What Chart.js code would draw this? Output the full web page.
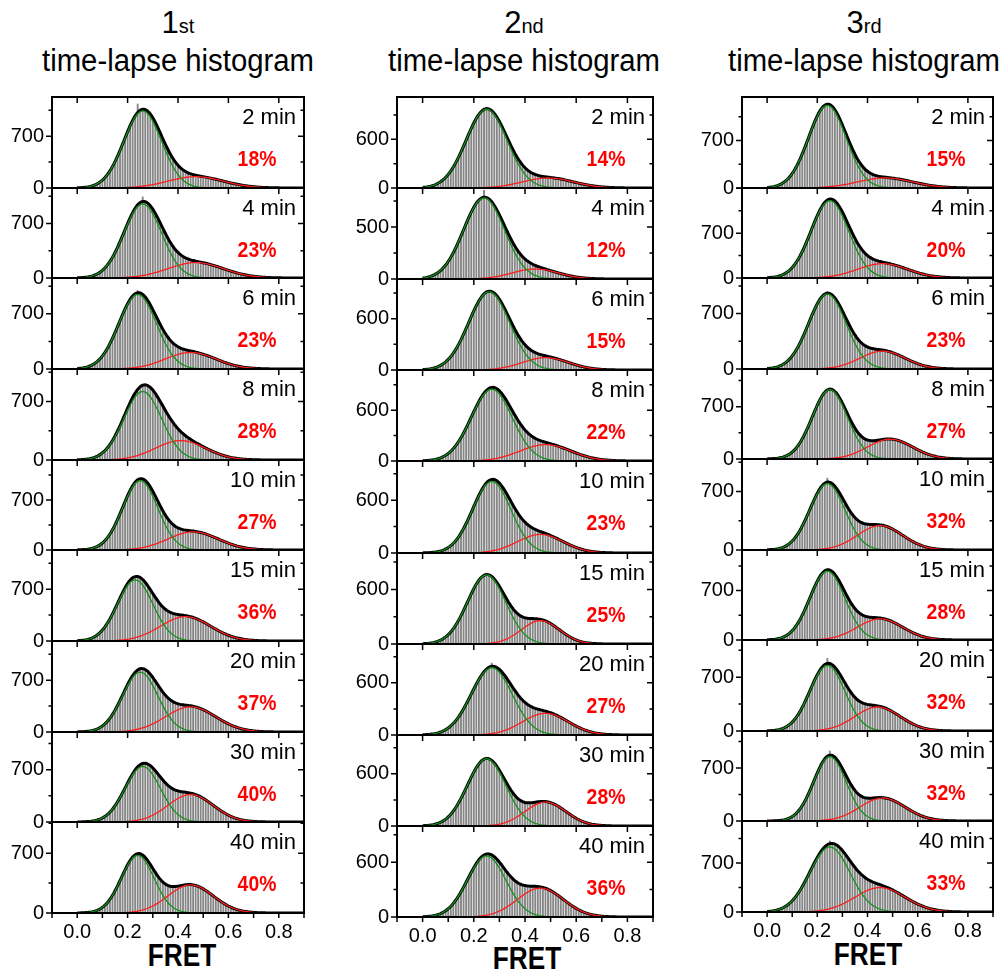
<!DOCTYPE html>
<html><head><meta charset="utf-8">
<script src="https://cdn.jsdelivr.net/npm/chart.js@4.4.1/dist/chart.umd.min.js"></script>
<style>
html,body{margin:0;padding:0;background:#fff;}
body{width:1003px;height:970px;position:relative;overflow:hidden;font-family:"Liberation Sans",Arial,Helvetica,sans-serif;}
canvas{position:absolute;}
.txt{position:absolute;white-space:nowrap;color:#000;}
</style></head><body>
<script>
// ---------------- data ----------------
const columnOrdinal = [["1","st"],["2","nd"],["3","rd"]];
const columnTitle = "time-lapse histogram";
const timeLabels = ["2 min","4 min","6 min","8 min","10 min","15 min","20 min","30 min","40 min"];
const highFretPercent = [
  [18,23,23,28,27,36,37,40,40],
  [14,12,15,22,23,25,27,28,36],
  [15,20,23,27,32,28,32,32,33]
];
const yAxisMax = [
  [1230,1155,1155,1090,1260,1230,1230,1205,1065],
  [1120,875,1065,1075,1045,1000,1045,1045,995],
  [1340,1405,1150,1205,1090,1275,1185,1190,1300]
];
const yMajorTick = [
  [700,700,700,700,700,700,700,700,700],
  [600,500,600,600,600,600,600,600,600],
  [700,700,700,700,700,700,700,700,700]
];
const xMajorTicks = [0,0.2,0.4,0.6,0.8];
const xTickLabels = ["0.0","0.2","0.4","0.6","0.8"];
const xMinorTicks = [-0.1,0,0.1,0.2,0.3,0.4,0.5,0.6,0.7,0.8,0.9];
const binStart = 0, binWidth = 0.01;   // histogram bins: 0.00 ... 0.85

// Gaussian fit parameters (low-FRET = green, high-FRET = red)
const lowPeakHeight = [[1040,950,945,820,970,826,809,744,673],[970,779,915,848,813,758,772,772,668],[1217,1208,947,928,794,975,853,850,930]];
const lowPeakCenter = [[0.26,0.26,0.24,0.26,0.25,0.23,0.25,0.26,0.24],[0.25,0.24,0.26,0.27,0.27,0.25,0.27,0.25,0.25],[0.24,0.25,0.24,0.25,0.24,0.24,0.24,0.25,0.25]];
const lowPeakWidth  = [[0.075,0.075,0.075,0.075,0.07,0.07,0.07,0.07,0.065],[0.08,0.08,0.08,0.08,0.075,0.075,0.08,0.075,0.075],[0.075,0.075,0.075,0.07,0.07,0.07,0.07,0.065,0.08]];
const highPeakHeight = [[153,198,210,232,254,329,340,368,329],[123,96,145,194,211,256,249,274,316],[148,224,226,265,292,300,313,304,349]];
const highPeakCenter = [[0.47,0.47,0.45,0.41,0.46,0.43,0.45,0.45,0.45],[0.49,0.44,0.48,0.48,0.46,0.46,0.48,0.48,0.46],[0.47,0.46,0.46,0.49,0.45,0.45,0.44,0.46,0.45]];
const highPeakWidth  = [[0.11,0.11,0.10,0.10,0.10,0.10,0.10,0.09,0.09],[0.10,0.09,0.09,0.10,0.09,0.075,0.09,0.08,0.09],[0.11,0.10,0.09,0.09,0.09,0.09,0.09,0.09,0.10]];

// histogram counts (bins of 0.01 from 0.00 to 0.85)
const histCol1 = [
[3,4,6,9,14,21,30,42,58,80,108,141,183,233,291,357,430,510,594,679,763,842,914,974,1140,1052,1065,1060,1038,1000,948,886,815,741,665,590,520,456,399,350,307,272,245,223,205,193,182,174,166,160,153,147,141,134,126,118,110,101,93,84,76,68,60,53,46,40,34,29,25,21,17,14,12,9,8,6,5,4,3,2,2,1,1,1,1,0],
[2,4,6,9,13,19,27,38,53,74,99,129,167,214,266,327,394,468,544,623,700,773,839,895,939,968,1045,979,962,929,884,830,768,703,636,572,510,455,406,364,328,299,277,258,244,233,224,217,210,204,197,189,181,172,163,152,142,131,120,109,98,88,78,69,60,52,45,38,32,27,22,18,15,12,10,8,6,5,4,3,2,2,1,1,1,1],
[6,9,13,19,27,38,53,72,97,128,165,212,264,323,390,462,538,615,691,764,828,884,927,955,1000,964,946,914,869,815,754,690,625,562,503,449,403,363,329,303,282,266,254,244,236,229,222,215,207,198,187,176,164,152,140,127,115,102,90,79,68,58,50,42,34,28,23,19,15,12,9,7,5,4,3,2,2,1,1,1,0,0,0,0,0,0],
[2,3,5,7,11,16,24,34,47,64,86,114,147,188,234,288,347,412,480,552,621,688,749,803,846,877,895,900,891,870,838,798,750,699,646,593,542,494,450,410,375,343,315,290,268,247,228,210,193,175,160,144,129,114,100,87,75,64,55,46,38,31,26,21,16,13,10,8,6,5,3,3,2,1,1,1,1,0,0,0,0,0,0,0,0,0],
[2,3,4,7,11,16,24,36,51,71,98,132,174,224,284,351,428,508,594,679,761,835,899,949,983,998,994,973,935,884,823,755,684,613,549,488,436,392,357,330,310,295,285,279,273,269,265,260,253,246,236,225,212,199,184,169,154,139,124,109,95,83,71,60,50,42,34,28,23,18,14,11,9,7,5,4,3,2,2,1,1,1,0,0,0,0],
[4,6,9,14,21,30,43,61,84,113,148,192,243,301,367,437,510,583,654,719,776,822,854,870,872,858,831,792,747,695,642,590,542,497,459,429,405,387,373,365,358,352,348,343,336,328,319,306,291,275,258,239,219,200,180,160,141,123,107,91,78,65,54,44,36,29,23,18,14,11,9,7,5,4,3,2,1,1,1,0,0,0,0,0,0,0],
[1,2,4,6,9,14,20,30,42,59,82,110,145,188,238,295,359,428,500,573,642,706,762,807,838,855,857,844,818,782,738,689,637,587,540,497,462,433,410,393,381,373,367,363,358,354,347,339,329,316,301,284,266,247,227,206,186,166,146,128,111,95,80,67,56,46,37,30,24,19,15,12,9,7,5,4,3,2,1,1,1,0,0,0,0,0],
[1,1,2,3,5,8,13,19,27,39,55,75,100,133,172,218,270,329,391,458,524,588,646,698,738,768,784,787,776,755,724,687,646,603,561,524,491,465,443,427,415,408,403,398,393,387,379,367,353,336,317,296,272,248,223,198,174,151,130,110,92,76,62,50,40,31,24,19,14,11,8,6,4,3,2,1,1,1,0,0,0,0,0,0,0,0],
[1,1,2,4,6,9,15,22,33,47,66,91,122,162,207,259,318,380,443,506,564,614,655,682,710,693,677,649,612,569,521,475,432,393,362,338,322,313,309,311,315,320,326,330,333,333,329,322,312,298,282,264,243,222,200,177,156,135,116,98,82,68,55,44,35,28,22,17,13,9,7,5,4,3,2,1,1,1,0,0,0,0,0,0,0,0]
];
const histCol2 = [
[7,11,16,22,31,43,58,77,101,131,167,210,259,315,377,444,515,590,663,733,800,858,907,944,967,977,971,951,918,873,818,756,691,623,555,490,430,375,326,285,249,220,197,180,166,157,149,143,138,134,129,126,121,116,109,104,96,89,82,75,67,60,53,46,40,34,29,24,20,17,14,11,9,7,5,4,3,2,2,1,1,1,0,0,0,0],
[9,12,18,25,34,46,62,81,105,134,168,208,253,303,357,414,474,532,589,643,690,730,760,779,855,783,768,742,707,665,617,565,512,460,409,361,318,279,245,216,192,172,156,141,130,120,112,103,96,88,81,74,67,59,52,46,39,34,29,24,20,16,13,10,8,6,5,4,3,2,1,1,1,0,0,0,0,0,0,0,0,0,0,0,0,0],
[5,7,10,15,21,29,40,55,73,96,124,157,198,244,297,356,419,486,555,625,692,755,809,856,891,914,922,918,899,869,827,777,721,660,598,537,479,425,375,332,296,264,240,220,204,192,182,173,166,159,152,144,136,127,118,108,98,88,78,69,60,51,43,36,30,24,20,16,12,10,7,6,4,3,2,2,1,1,0,0,0,0,0,0,0,0],
[3,4,6,9,14,19,27,37,51,68,89,114,146,183,226,277,331,390,452,518,582,645,705,757,801,836,858,869,867,854,828,794,752,703,651,598,544,494,448,405,367,335,308,285,268,253,241,230,221,212,204,194,185,175,165,154,142,129,118,106,94,83,73,63,54,46,38,32,26,21,17,14,11,9,7,5,4,3,2,2,1,1,0,0,0,0],
[1,2,3,5,7,11,16,23,33,46,62,83,110,142,181,226,278,335,398,462,529,594,657,713,761,799,824,836,834,820,793,758,714,664,613,560,510,462,419,382,350,323,301,283,268,256,244,233,222,211,198,186,172,158,143,128,114,100,87,74,63,53,43,35,28,23,18,14,11,8,6,4,3,2,2,1,1,0,0,0,0,0,0,0,0,0],
[3,5,7,10,15,22,31,43,58,78,102,133,169,211,258,312,369,429,490,550,607,658,702,733,754,763,758,741,714,677,633,585,535,486,440,399,363,336,314,299,288,283,280,279,278,276,271,264,254,241,225,207,187,166,145,125,105,87,71,57,45,35,26,20,14,10,7,5,3,2,2,1,0,0,0,0,0,0,0,0,0,0,0,0,0,0],
[3,4,6,9,12,18,25,34,46,61,81,104,133,167,206,251,300,354,411,470,529,586,639,686,727,758,779,830,787,775,754,723,686,645,601,557,512,472,434,402,374,351,332,317,307,297,289,282,274,266,255,245,232,217,202,186,169,151,134,118,102,88,74,62,51,42,34,27,21,16,13,10,7,5,4,3,2,1,1,0,0,0,0,0,0,0],
[3,5,7,10,15,22,31,43,59,79,104,135,172,215,263,317,376,437,499,560,618,670,714,747,768,776,771,754,725,685,640,589,536,484,435,390,352,322,297,280,270,266,266,269,273,277,281,282,281,277,269,257,243,226,207,187,166,145,125,107,89,73,59,47,37,29,22,16,12,9,6,4,3,2,1,1,0,0,0,0,0,0,0,0,0,0],
[3,4,6,9,13,19,27,37,51,69,90,117,149,186,228,276,326,380,434,489,540,586,626,657,678,689,689,679,660,632,600,564,526,489,455,425,398,378,362,351,343,340,337,336,335,333,329,323,314,303,289,273,254,234,213,192,170,150,130,111,94,79,65,53,43,34,27,21,16,12,9,7,5,4,2,2,1,1,0,0,0,0,0,0,0,0]
];
const histCol3 = [
[7,11,16,24,35,49,68,93,125,164,213,272,339,416,502,595,692,791,889,981,1062,1132,1185,1220,1234,1226,1198,1151,1088,1014,929,838,747,659,574,497,428,369,319,278,246,221,201,188,178,170,163,159,154,151,146,141,134,128,121,114,106,98,90,82,74,66,58,51,45,39,33,28,24,20,17,14,11,9,7,6,5,4,3,2,2,1,1,1,0,0],
[5,7,11,16,24,35,49,68,93,124,163,211,270,337,413,498,590,687,786,883,976,1057,1128,1182,1217,1233,1227,1203,1159,1100,1030,950,866,780,697,618,548,485,432,386,350,322,300,282,269,258,248,239,231,221,212,201,189,176,163,149,136,122,109,96,84,73,62,53,44,37,30,25,20,16,13,10,8,6,4,3,2,2,1,1,1,0,0,0,0,0],
[6,9,13,19,27,38,53,73,97,128,166,211,263,323,389,461,537,614,690,762,824,879,920,947,985,953,933,898,852,797,735,669,603,541,482,430,385,348,318,295,278,267,258,252,248,244,239,234,227,218,207,195,181,167,152,137,122,107,93,80,67,56,47,38,31,24,19,15,11,9,6,5,3,3,2,1,1,0,0,0,0,0,0,0,0,0],
[2,3,4,7,10,16,23,34,49,68,93,125,165,213,270,334,406,483,563,644,720,790,849,895,925,936,929,904,863,810,748,679,608,538,472,413,363,322,291,268,254,247,245,246,250,256,261,266,267,268,265,260,251,240,227,212,196,179,161,143,126,109,93,79,66,55,45,36,29,22,17,13,10,8,6,4,3,2,1,1,0,0,0,0,0,0],
[2,4,6,9,13,20,29,42,58,80,107,141,183,231,287,349,415,484,553,619,680,732,773,801,865,811,793,763,723,675,623,569,516,468,424,388,360,338,323,314,308,307,305,305,303,301,296,289,278,266,250,234,216,197,177,157,138,120,103,87,73,60,49,39,31,25,19,15,11,8,6,4,3,2,2,1,1,0,0,0,0,0,0,0,0,0],
[3,4,7,11,16,24,36,51,72,98,132,174,224,284,352,428,509,594,679,761,834,898,947,980,995,990,968,930,878,818,751,681,613,550,493,446,406,376,354,338,329,323,320,317,314,311,305,297,287,274,258,240,222,202,182,162,142,123,106,89,75,62,50,41,32,25,20,15,11,9,6,5,3,2,2,1,1,0,0,0,0,0,0,0,0,0],
[2,4,6,9,14,21,31,45,63,86,115,152,196,249,308,376,446,521,596,668,733,790,835,865,950,878,861,831,788,739,684,628,573,522,476,438,407,383,366,354,347,341,336,332,327,320,311,300,286,269,251,231,211,190,169,148,129,110,93,78,64,53,42,34,27,21,16,12,9,7,5,3,2,2,1,1,0,0,0,0,0,0,0,0,0,0],
[0,1,2,3,5,7,12,18,28,41,59,84,115,155,203,261,327,401,478,558,637,710,773,823,855,930,866,844,805,755,695,631,567,506,451,404,367,340,320,309,303,302,303,306,309,309,309,305,299,289,275,261,244,225,205,185,164,144,125,107,91,76,63,51,41,33,26,20,15,12,9,6,5,3,2,2,1,1,0,0,0,0,0,0,0,0],
[7,10,15,21,30,41,55,74,97,126,161,202,250,304,365,430,499,572,643,714,780,840,892,932,961,1020,980,970,949,917,878,833,784,735,685,638,595,555,521,492,468,448,431,416,402,390,377,363,349,332,315,296,276,255,234,212,191,170,150,131,113,97,82,69,57,47,38,31,25,20,15,12,9,7,5,4,3,2,2,1,1,0,0,0,0,0]
];
const histograms = [histCol1, histCol2, histCol3];

// ---------------- layout / style ----------------
const FONT = '"Liberation Sans", Arial, Helvetica, sans-serif';
const colPlotLeft = [52, 397, 742];
const colPlotWidth = [252, 256, 251];
const colTop = [97, 97, 97];
const colBottom = [913, 917, 912];
const titleCenter = [178, 524, 864];
const fretCenter = [182, 527, 868];
const fretBaseline = [966.5, 968.7, 965.5];
const LW = 50, RW = 8, TP = 8, BP = 14, XH = 36;

function gauss(x, a, c, s) { return a * Math.exp(-(x - c) * (x - c) / (2 * s * s)); }

function addText(text, opts) {
  const d = document.createElement('div');
  d.className = 'txt';
  d.innerHTML = text;
  const F = opts.size;
  d.style.fontSize = F + 'px';
  d.style.lineHeight = F + 'px';
  d.style.top = (opts.baseline - 0.8465 * F) + 'px';
  if (opts.bold) d.style.fontWeight = 'bold';
  if (opts.color) d.style.color = opts.color;
  const sx = opts.scaleX || 1;
  if (opts.align === 'right') {
    d.style.right = (1003 - opts.x) + 'px';
    d.style.transformOrigin = '100% 50%';
    d.style.transform = 'scaleX(' + sx + ')';
  } else {
    d.style.left = opts.x + 'px';
    d.style.transform = 'translateX(-50%) scaleX(' + sx + ')';
  }
  document.body.appendChild(d);
}

const framePlugin = {
  id: 'frame',
  afterDatasetsDraw(chart, args, o) {
    const { ctx, chartArea: a, scales: { x, y } } = chart;
    ctx.save();
    ctx.strokeStyle = '#000';
    ctx.lineWidth = 1.5;
    ctx.beginPath();
    y.ticks.forEach(t => {
      const py = y.getPixelForValue(t.value);
      const len = (Math.abs(t.value % o.major) < 1e-6) ? 6 : 3.5;
      ctx.moveTo(a.left, py); ctx.lineTo(a.left - len, py);
      ctx.moveTo(a.right, py); ctx.lineTo(a.right - len, py);
    });
    xMajorTicks.forEach(v => {
      const px = x.getPixelForValue(v);
      ctx.moveTo(px, a.top); ctx.lineTo(px, a.top + 6);
    });
    if (o.last) {
      xMinorTicks.forEach(v => {
        const px = x.getPixelForValue(v);
        ctx.moveTo(px, a.bottom); ctx.lineTo(px, a.bottom + 5);
      });
    }
    ctx.stroke();
    ctx.lineWidth = 2;
    ctx.strokeRect(a.left, a.top, a.right - a.left, a.bottom - a.top);
    ctx.restore();
  }
};

function makePanel(c, r) {
  const H = (colBottom[c] - colTop[c]) / 9;
  const top = Math.round(colTop[c] + r * H);
  const bottom = Math.round(colTop[c] + (r + 1) * H);
  const last = r === 8;
  const w = LW + colPlotWidth[c] + RW;
  const h = TP + (bottom - top) + (last ? XH : BP);
  const cv = document.createElement('canvas');
  cv.width = w; cv.height = h;
  cv.style.left = (colPlotLeft[c] - LW) + 'px';
  cv.style.top = (top - TP) + 'px';
  cv.style.width = w + 'px'; cv.style.height = h + 'px';
  document.body.appendChild(cv);

  const counts = histograms[c][r];
  const bars = counts.map((v, i) => ({ x: +(binStart + i * binWidth).toFixed(2), y: v }));
  const a1 = lowPeakHeight[c][r], c1 = lowPeakCenter[c][r], s1 = lowPeakWidth[c][r];
  const a2 = highPeakHeight[c][r], c2 = highPeakCenter[c][r], s2 = highPeakWidth[c][r];
  const green = [], red = [], black = [];
  for (let k = 0; k <= 180; k++) {
    const xv = k * 0.005;
    const g = gauss(xv, a1, c1, s1), rr = gauss(xv, a2, c2, s2);
    green.push({ x: xv, y: g }); red.push({ x: xv, y: rr }); black.push({ x: xv, y: g + rr });
  }
  const major = yMajorTick[c][r];
  const ymax = yAxisMax[c][r];
  new Chart(cv, {
    type: 'bar',
    data: {
      datasets: [
        { type: 'line', data: green, borderColor: '#13921a', borderWidth: 1.3, pointRadius: 0, tension: 0, order: 0 },
        { type: 'line', data: red, borderColor: '#ff1e1e', borderWidth: 1.3, pointRadius: 0, tension: 0, order: 1 },
        { type: 'line', data: black, borderColor: '#000000', borderWidth: 3, pointRadius: 0, tension: 0, order: 2 },
        { type: 'bar', data: bars, backgroundColor: '#868686', barPercentage: 0.74, categoryPercentage: 1, order: 3 }
      ]
    },
    options: {
      responsive: false, animation: false, devicePixelRatio: 1, events: [],
      layout: { padding: { left: 0, right: RW, top: TP, bottom: last ? 0 : BP } },
      plugins: { legend: { display: false }, tooltip: { enabled: false }, frame: { major: major, last: last } },
      scales: {
        x: {
          type: 'linear', min: -0.1, max: 0.9, offset: false, display: last,
          grid: { display: false, drawTicks: false }, border: { display: false },
          ticks: {
            autoSkip: false, maxRotation: 0, padding: 7,
            font: { family: FONT, size: 20 }, color: '#000',
            callback: (v) => { const idx = xMajorTicks.findIndex(m => Math.abs(m - v) < 1e-6); return idx >= 0 ? xTickLabels[idx] : ''; }
          },
          afterBuildTicks: (s) => { s.ticks = xMinorTicks.map(v => ({ value: v })); },
          afterFit: (s) => { s.height = last ? XH : 0; s.paddingLeft = 0; s.paddingRight = 0; }
        },
        y: {
          min: 0, max: ymax,
          grid: { display: false, drawTicks: false }, border: { display: false },
          ticks: {
            autoSkip: false, padding: 8,
            font: { family: FONT, size: 20 }, color: '#000',
            callback: (v) => (Math.abs(v) < 1e-6 || Math.abs(v - major) < 1e-6) ? String(Math.round(v)) : ''
          },
          afterBuildTicks: (s) => {
            const t = [];
            for (let k = 0; k * major / 2 <= ymax; k++) t.push({ value: k * major / 2 });
            s.ticks = t;
          },
          afterFit: (s) => { s.width = LW; s.paddingTop = 0; s.paddingBottom = 0; }
        }
      }
    },
    plugins: [framePlugin]
  });

  const plotRight = colPlotLeft[c] + colPlotWidth[c];
  addText(timeLabels[r], { size: 22, baseline: top + 28, x: plotRight - 8, align: 'right' });
  addText(highFretPercent[c][r] + '%', { size: 22, bold: true, color: '#ff0000', baseline: top + 70, x: plotRight - 47, scaleX: 0.88 });
}

for (let c = 0; c < 3; c++) {
  addText(columnOrdinal[c][0] + '<span style="font-size:20px">' + columnOrdinal[c][1] + '</span>', { size: 31, baseline: 33, x: titleCenter[c] });
  addText(columnTitle, { size: 31, baseline: 71, x: titleCenter[c], scaleX: 0.945 });
  addText('FRET', { size: 32, bold: true, baseline: fretBaseline[c], x: fretCenter[c], scaleX: 0.82 });
  for (let r = 0; r < 9; r++) makePanel(c, r);
}
</script>
</body></html>
